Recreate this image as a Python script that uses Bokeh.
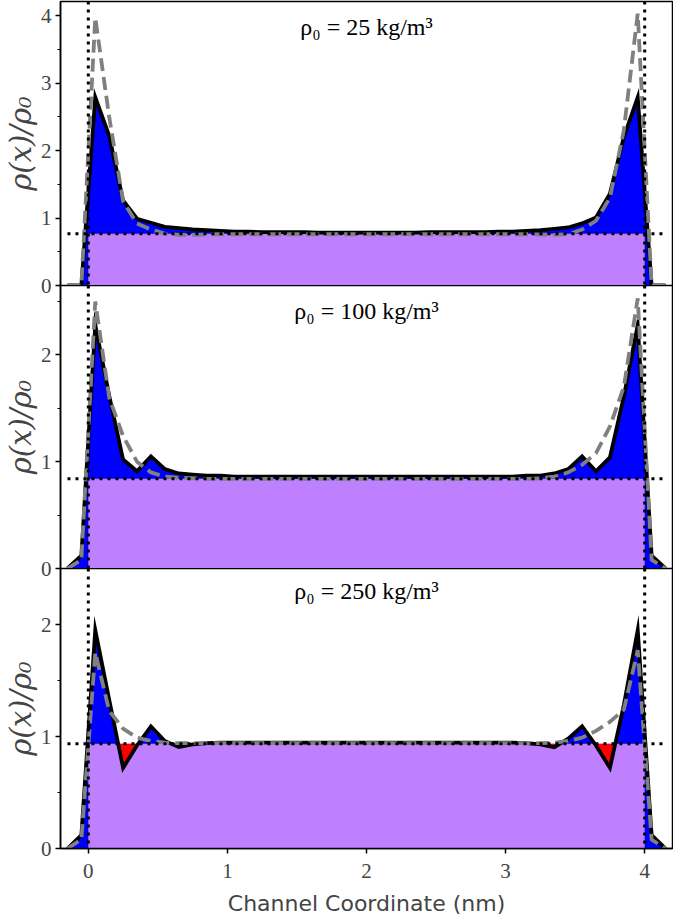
import numpy as np
from bokeh.plotting import figure
from bokeh.models import Range1d, Span, Label, SingleIntervalTicker, FixedTicker
from bokeh.layouts import column
from bokeh.embed import file_html
from bokeh.resources import INLINE

# ---------------- data ----------------
x_nm = [-0.15, -0.05, 0.05, 0.15, 0.25, 0.35, 0.45, 0.55, 0.65, 0.75, 0.85,
        0.95, 1.05, 1.15, 1.25, 1.35, 1.45, 1.55, 1.65, 1.75, 1.85, 1.95,
        2.05, 2.15, 2.25, 2.35, 2.45, 2.55, 2.65, 2.75, 2.85, 2.95, 3.05,
        3.15, 3.25, 3.35, 3.45, 3.55, 3.65, 3.75, 3.85, 3.95, 4.05, 4.15]

sim_25 = [0.0, 0.0, 2.79, 2.22, 1.26, 0.99, 0.93, 0.87, 0.85, 0.83, 0.82,
          0.81, 0.80, 0.80, 0.79, 0.79, 0.79, 0.79, 0.785, 0.785, 0.785, 0.785,
          0.785, 0.785, 0.785, 0.785, 0.79, 0.79, 0.79, 0.79, 0.79, 0.80, 0.80,
          0.81, 0.82, 0.84, 0.86, 0.92, 1.01, 1.36, 2.20, 2.79, 0.0, 0.0]
model_25 = [0.0, 0.0, 3.97, 2.50, 1.25, 0.92, 0.83, 0.77, 0.75, 0.75, 0.755,
            0.76, 0.76, 0.76, 0.76, 0.76, 0.76, 0.76, 0.76, 0.76, 0.76, 0.76,
            0.76, 0.76, 0.76, 0.76, 0.76, 0.76, 0.76, 0.76, 0.76, 0.76, 0.76,
            0.76, 0.755, 0.75, 0.76, 0.83, 0.96, 1.30, 2.30, 4.03, 0.0, 0.0]

sim_100 = [0.0, 0.12, 2.28, 1.62, 1.02, 0.91, 1.05, 0.93, 0.89, 0.88, 0.87,
           0.87, 0.86, 0.86, 0.86, 0.86, 0.86, 0.86, 0.86, 0.86, 0.86, 0.86,
           0.86, 0.86, 0.86, 0.86, 0.86, 0.86, 0.86, 0.86, 0.86, 0.86, 0.86,
           0.87, 0.87, 0.89, 0.93, 1.05, 0.91, 1.04, 1.61, 2.28, 0.12, 0.0]
model_100 = [0.0, 0.08, 2.50, 1.60, 1.24, 1.00, 0.90, 0.86, 0.85, 0.845, 0.84,
             0.84, 0.84, 0.84, 0.84, 0.84, 0.84, 0.84, 0.84, 0.84, 0.84, 0.84,
             0.84, 0.84, 0.84, 0.84, 0.84, 0.84, 0.84, 0.84, 0.84, 0.84, 0.84,
             0.84, 0.845, 0.86, 0.90, 0.97, 1.08, 1.33, 1.70, 2.53, 0.08, 0.0]

sim_250 = [0.0, 0.12, 1.95, 1.33, 0.72, 0.92, 1.09, 0.96, 0.905, 0.93, 0.94,
           0.945, 0.945, 0.945, 0.945, 0.945, 0.945, 0.945, 0.945, 0.945, 0.945, 0.945,
           0.945, 0.945, 0.945, 0.945, 0.945, 0.945, 0.945, 0.945, 0.945, 0.945, 0.945,
           0.94, 0.93, 0.905, 0.98, 1.09, 0.92, 0.72, 1.28, 1.95, 0.12, 0.0]
model_250 = [0.0, 0.08, 1.75, 1.23, 1.07, 0.99, 0.96, 0.945, 0.94, 0.94, 0.94,
             0.94, 0.94, 0.94, 0.94, 0.94, 0.94, 0.94, 0.94, 0.94, 0.94, 0.94,
             0.94, 0.94, 0.94, 0.94, 0.94, 0.94, 0.94, 0.94, 0.94, 0.94, 0.94,
             0.94, 0.94, 0.945, 0.96, 0.99, 1.05, 1.13, 1.24, 1.77, 0.08, 0.0]

bulk_levels = [0.766, 0.84, 0.936]
walls = [0.0, 4.0]
titles = ["ρ₀ = 25 kg/m³", "ρ₀ = 100 kg/m³", "ρ₀ = 250 kg/m³"]
y_max = [4.21, 2.65, 2.5]
x_ticks = [0, 1, 2, 3, 4]
x_limits = [-0.2, 4.2]

sims = [sim_25, sim_100, sim_250]
models = [model_25, model_100, model_250]

# ---------------- styling ----------------
BLUE = "#0000ff"
PURPLE = "#bf80ff"
RED = "#ff0000"
GREY = "#808080"
SERIF = "Liberation Serif"

W = 673
OVER = 12                       # overlap so that edge tick labels are not clipped
frame_h = [284, 283, 286]
b_top = [1, 0, 0]
b_bot = [OVER, OVER, 64]
title_drop = [25, 25, 28]

x_range = Range1d(*x_limits)
figs = []
xs = np.array(x_nm)
for i in range(3):
    p = figure(width=W, height=frame_h[i] + b_top[i] + b_bot[i],
               output_backend="svg", toolbar_location=None, x_range=x_range,
               y_range=Range1d(0, y_max[i]),
               min_border_left=58, min_border_right=1,
               min_border_top=b_top[i], min_border_bottom=b_bot[i])
    if i > 0:
        p.margin = (-OVER, 0, 0, 0)
        p.border_fill_alpha = 0.0
    else:
        p.border_fill_color = "white"
    p.xgrid.visible = False
    p.ygrid.visible = False
    p.outline_line_color = "black"
    p.outline_line_width = 1.5
    p.outline_line_alpha = 1.0
    p.background_fill_color = "white"

    sim = np.array(sims[i])
    mod = np.array(models[i])
    lev = bulk_levels[i]

    # blue: area under simulated profile
    p.varea(x=xs, y1=np.zeros_like(sim), y2=sim, fill_color=BLUE)
    # purple: bulk density block between walls
    p.quad(left=[walls[0]], right=[walls[1]], bottom=[0], top=[lev],
           fill_color=PURPLE, line_color=None)
    # red: depletion below bulk level inside the channel
    xf = np.linspace(x_nm[0], x_nm[-1], 4301)
    bf = np.interp(xf, xs, sim)
    inside = (xf >= walls[0]) & (xf <= walls[1])
    low = np.where(inside, np.minimum(bf, lev), lev)
    p.varea(x=xf, y1=low, y2=np.full_like(xf, lev), fill_color=RED)

    p.line(xs, sim, line_color="black", line_width=3.8, line_join="miter")
    p.line(xs, mod, line_color=GREY, line_width=3.8, line_dash="13 6")
    p.line([x_nm[0], x_nm[-1]], [lev, lev], line_color="black",
           line_width=3, line_dash="3 5")
    for w in walls:
        p.add_layout(Span(location=w, dimension="height", line_color="black",
                          line_width=3, line_dash="3 5"))

    p.add_layout(Label(x=2.0, y=frame_h[i] - title_drop[i],
                       y_units="screen", text=titles[i], text_align="center",
                       text_baseline="middle", text_font=SERIF,
                       text_font_size="24px", text_color="black"))

    yax = p.yaxis[0]
    yax.ticker = SingleIntervalTicker(interval=1, num_minor_ticks=2)
    yax.axis_label = "ρ(x)/ρ₀"
    yax.axis_label_text_font = "DejaVu Serif"
    yax.axis_label_text_font_style = "italic"
    yax.axis_label_text_font_size = "29px"
    yax.axis_label_standoff = 0
    yax.major_label_text_font = SERIF
    yax.major_label_text_font_size = "21px"
    yax.major_label_standoff = 4
    yax.major_tick_out = 5
    yax.major_tick_in = 0
    yax.minor_tick_out = 3
    yax.minor_tick_in = 0
    yax.axis_line_width = 1.5
    yax.major_tick_line_width = 1.5
    yax.minor_tick_line_width = 1.2

    xax = p.xaxis[0]
    if i < 2:
        xax.visible = False
    else:
        xax.ticker = FixedTicker(ticks=x_ticks)
        xax.axis_label = "Channel Coordinate (nm)"
        xax.axis_label_text_font = "DejaVu Sans"
        xax.axis_label_text_font_style = "normal"
        xax.axis_label_text_font_size = "22px"
        xax.axis_label_standoff = 10
        xax.major_label_text_font = SERIF
        xax.major_label_text_font_size = "21px"
        xax.major_label_standoff = 10
        xax.major_tick_out = 5
        xax.major_tick_in = 0
        xax.minor_tick_out = 0
        xax.minor_tick_in = 0
        xax.axis_line_width = 1.5
        xax.major_tick_line_width = 1.5
    figs.append(p)

layout = column(*figs, spacing=0)
open("out.html", "w").write(file_html(layout, INLINE))
